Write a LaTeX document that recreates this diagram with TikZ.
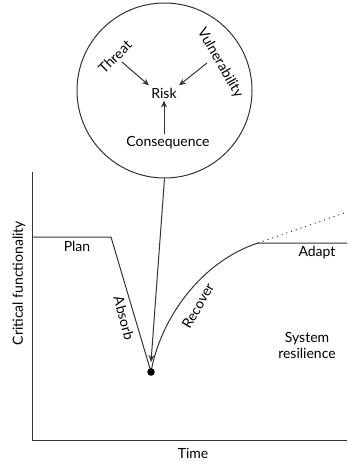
\documentclass[tikz,border=0pt]{standalone}
\usepackage{fontspec}
\setmainfont{Lato}
\usepackage{tikz}
\usetikzlibrary{arrows.meta,positioning,calc}

\tikzset{
    lbl/.style={font=\fontsize{7}{8}\selectfont, inner sep=1pt},
    curve/.style={draw=black!80, line width=0.5pt},
    ptr/.style={curve, -{Stealth[length=3.5pt,width=3pt]}}
}

\begin{document}
\begin{tikzpicture}[x=0.5pt, y=-0.5pt]
    \useasboundingbox (0,0) rectangle (347,464);
    % Risk circle
    \node[draw=black!80, line width=0.5pt, circle, minimum size=87.5pt, inner sep=0pt] (bubble) at (164.5,90.5) {};
    \node[lbl] (risk) at (164,93) {Risk};
    \node[lbl, rotate=45] (threat) at (115,57) {Threat};
    \node[lbl, rotate=-60] (vuln) at (220,63) {Vulnerability};
    \node[lbl] (cons) at (168,143) {Consequence};
    \draw[ptr] (122,62) -- (risk.north west);
    \draw[ptr] (207,63) -- (risk.north east);
    \draw[ptr] (cons.north -| risk) -- (risk.south);

    % Axes
    \coordinate (origin) at (32,440);
    \draw[curve] (32,172) -- (origin) -- (347,440);
    \node[lbl, rotate=90] (ylab) at (19,283) {Critical functionality};
    \node[lbl] (xlab) at (193,453) {Time};

    % Functionality curve
    \coordinate (drop) at (111,237);
    \coordinate (knee) at (258,243);
    \coordinate (bottom) at (151,372);
    \draw[curve] (32,237) -- (drop) -- (bottom);
    \draw[curve] (bottom) .. controls (160,320) and (200,262) .. (knee) -- (347,243);
    \draw[curve, dotted] (knee) -- (347,212);
    \fill[black] (bottom) circle[radius=1.9pt];
    \draw[ptr] (bubble.south) -- ($(bottom)+(0,-10)$);

    % Phase labels
    \node[lbl] (plan) at (77,246) {Plan};
    \node[lbl, rotate=-75] (absorb) at (124,318) {Absorb};
    \node[lbl, rotate=60] (recover) at (198,306) {Recover};
    \node[lbl] (adapt) at (317,253) {Adapt};
    \node[lbl, align=center] (sysres) at (307,345) {System\\resilience};
\end{tikzpicture}
\end{document}
